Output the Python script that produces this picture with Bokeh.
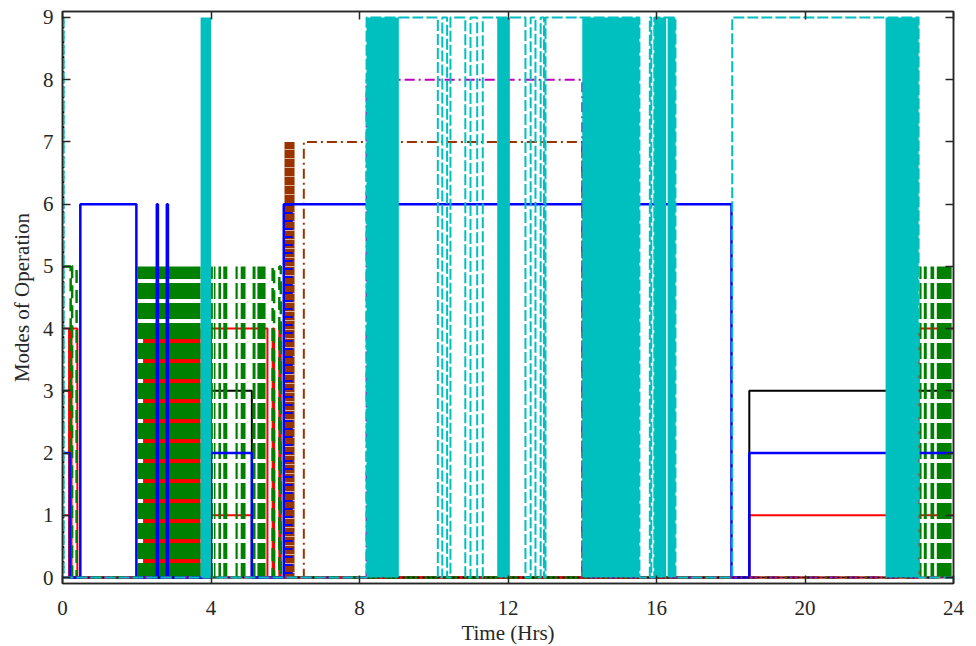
from bokeh.plotting import figure
from bokeh.models import Range1d, LinearAxis, FixedTicker
from bokeh.embed import file_html
from bokeh.resources import INLINE

T_END = 24.0

# ---- step series: switching times (Hrs) and mode held from that time ----
black_t = [0.0, 0.2, 4.0, 5.1, 18.5]
black_v = [3, 0, 3, 0, 3]

red1_t = [0.0, 0.2, 4.0, 5.1, 18.5]
red1_v = [1, 0, 1, 0, 1]

red4_t = [0.0, 0.4, 4.0, 5.52, 5.66, 5.70, 5.84, 5.88, 23.06]
red4_v = [4, 0, 4, 0, 4, 0, 4, 0, 4]

green_t = [0.0, 0.22, 0.26, 0.38, 5.66, 5.70, 5.84, 5.88]
green_v = [5, 0, 5, 0, 5, 0, 5, 0]

blue_t = [0.0, 0.2, 0.48, 1.99, 2.54, 2.57, 2.81, 2.84, 4.0, 5.1, 5.96, 18.02, 18.5]
blue_v = [2, 0, 6, 0, 6, 0, 6, 0, 2, 0, 6, 0, 2]

brown_t = [0.0, 6.5, 14.0]
brown_v = [0, 7, 0]

magenta_t = [0.0, 8.19, 14.0]
magenta_v = [0, 8, 0]

kdot_t = [0.0, 0.03]
kdot_v = [9, 0]

cyan_t = [0.0, 0.03, 8.19, 10.11, 10.23, 10.36, 10.45, 10.85, 10.99, 11.17, 11.32,
          12.47, 12.61, 12.74, 12.88, 12.97, 13.01, 15.54, 15.82, 15.86, 15.94,
          16.51, 18.04, 23.06]
cyan_v = [9, 0, 9, 0, 9, 0, 9, 0, 9, 0, 9,
          0, 9, 0, 9, 0, 9, 0, 9, 0, 9,
          0, 9, 0]

# ---- rapid-switching zones (start, end, top mode) ----
red_zone_start = [0.15, 2.17]
red_zone_end = [0.27, 3.72]
red_zone_top = [4, 4]

green_zone_start = [2.02, 3.99, 4.08, 4.20, 4.33, 4.66, 4.80, 5.12, 5.25,
                    23.08, 23.20, 23.38, 23.55]
green_zone_end = [3.72, 4.05, 4.12, 4.27, 4.44, 4.72, 4.93, 5.20, 5.47,
                  23.14, 23.28, 23.48, 23.95]
green_zone_top = [5, 5, 5, 5, 5, 5, 5, 5, 5, 5, 5, 5, 5]

brown_zone_start = [5.98]
brown_zone_end = [6.25]
brown_zone_top = [7]

blue_zone_start = [5.98]
blue_zone_end = [6.20]
blue_zone_top = [6]

cyan_zone_start = [3.72, 8.19, 11.71, 14.0, 15.94, 16.30, 22.17]
cyan_zone_end = [4.0, 9.06, 12.05, 15.54, 16.26, 16.51, 23.06]
cyan_zone_top = [9, 9, 9, 9, 9, 9, 9]

x_ticks = [0, 4, 8, 12, 16, 20, 24]
y_ticks = [0, 1, 2, 3, 4, 5, 6, 7, 8, 9]

BLUE = "#0000FF"
RED = "#FF0000"
BLACK = "#000000"
GREEN = "#008000"
CYAN = "#00BFBF"
MAGENTA = "#BF00BF"
BROWN = "#993300"
AXC = "#262626"
FONT = "Liberation Serif"


def ext(t, v):
    return list(t) + [T_END], list(v) + [v[-1]]


p = figure(frame_width=891, frame_height=572, x_range=Range1d(0, 24),
           y_range=Range1d(-0.096, 9.096),
           output_backend="svg", toolbar_location=None,
           min_border_left=62, min_border_right=15, min_border_top=11, min_border_bottom=55)
p.grid.visible = False
p.background_fill_color = "white"
p.border_fill_color = "white"
p.outline_line_color = AXC
p.outline_line_width = 1.5

# bottom layers
x, y = ext(red1_t, red1_v)
p.step(x, y, mode="after", line_color=RED, line_width=2)
x, y = ext(black_t, black_v)
p.step(x, y, mode="after", line_color=BLACK, line_width=2)

p.quad(left=red_zone_start, right=red_zone_end, bottom=0, top=red_zone_top,
       fill_color=RED, line_color=None)
x, y = ext(red4_t, red4_v)
p.step(x, y, mode="after", line_color=RED, line_width=2)

p.quad(left=green_zone_start, right=green_zone_end, bottom=0, top=green_zone_top,
       fill_color=None, line_color=None, hatch_pattern="horizontal_line",
       hatch_color=GREEN, hatch_weight=16, hatch_scale=20)
x, y = ext(green_t, green_v)
p.step(x, y, mode="after", line_color=GREEN, line_width=2.5, line_dash="13 7")

p.quad(left=brown_zone_start, right=brown_zone_end, bottom=0, top=brown_zone_top,
       fill_color=BROWN, line_color=None, hatch_pattern="horizontal_line",
       hatch_color="white", hatch_weight=1, hatch_scale=9, hatch_alpha=0.6)
x, y = ext(brown_t, brown_v)
p.step(x, y, mode="after", line_color=BROWN, line_width=2, line_dash="10 4 2 4")

p.quad(left=blue_zone_start, right=blue_zone_end, bottom=0, top=blue_zone_top,
       fill_color=None, line_color=None, hatch_pattern="horizontal_line",
       hatch_color=BLUE, hatch_weight=2, hatch_scale=8)
x, y = ext(blue_t, blue_v)
p.step(x, y, mode="after", line_color=BLUE, line_width=2.5)

x, y = ext(magenta_t, magenta_v)
p.step(x, y, mode="after", line_color=MAGENTA, line_width=2, line_dash="10 4 2 4")

x, y = ext(kdot_t, kdot_v)
p.step(x, y, mode="after", line_color=BLACK, line_width=1.5, line_dash="2 3")

x, y = ext(cyan_t, cyan_v)
p.step(x, y, mode="after", line_color=CYAN, line_width=2, line_dash="11 3")
p.quad(left=cyan_zone_start, right=cyan_zone_end, bottom=0, top=cyan_zone_top,
       fill_color=CYAN, line_color=None)

# axes
for ax in (p.xaxis[0], p.yaxis[0]):
    ax.major_tick_in = 8
    ax.major_tick_out = 0
    ax.minor_tick_line_color = None
    ax.axis_line_color = AXC
    ax.axis_line_width = 1.5
    ax.major_tick_line_color = AXC
    ax.major_tick_line_width = 1.5
    ax.major_label_text_font = FONT
    ax.major_label_text_font_size = "21px"
    ax.major_label_text_color = AXC
    ax.axis_label_text_font = FONT
    ax.axis_label_text_font_size = "21px"
    ax.axis_label_text_font_style = "normal"
    ax.axis_label_text_color = AXC

p.xaxis[0].ticker = FixedTicker(ticks=x_ticks)
p.yaxis[0].ticker = FixedTicker(ticks=y_ticks)
p.xaxis[0].axis_label = "Time (Hrs)"
p.yaxis[0].axis_label = "Modes of Operation"
p.xaxis[0].major_label_standoff = 17
p.xaxis[0].axis_label_standoff = 3
p.yaxis[0].major_label_standoff = 9
p.yaxis[0].axis_label_standoff = 6

top_ax = LinearAxis(ticker=FixedTicker(ticks=x_ticks), major_label_text_font_size="1px",
                    major_label_text_color=None,
                    major_label_standoff=0, major_tick_in=8, major_tick_out=0,
                    minor_tick_line_color=None, axis_line_color=AXC, axis_line_width=1.5,
                    major_tick_line_color=AXC, major_tick_line_width=1.5)
right_ax = LinearAxis(ticker=FixedTicker(ticks=y_ticks), major_label_text_font_size="1px",
                      major_label_text_color=None,
                      major_label_standoff=0, major_tick_in=8, major_tick_out=0,
                      minor_tick_line_color=None, axis_line_color=AXC, axis_line_width=1.5,
                      major_tick_line_color=AXC, major_tick_line_width=1.5)
p.add_layout(top_ax, "above")
p.add_layout(right_ax, "right")

open("out.html", "w").write(file_html(p, INLINE))
